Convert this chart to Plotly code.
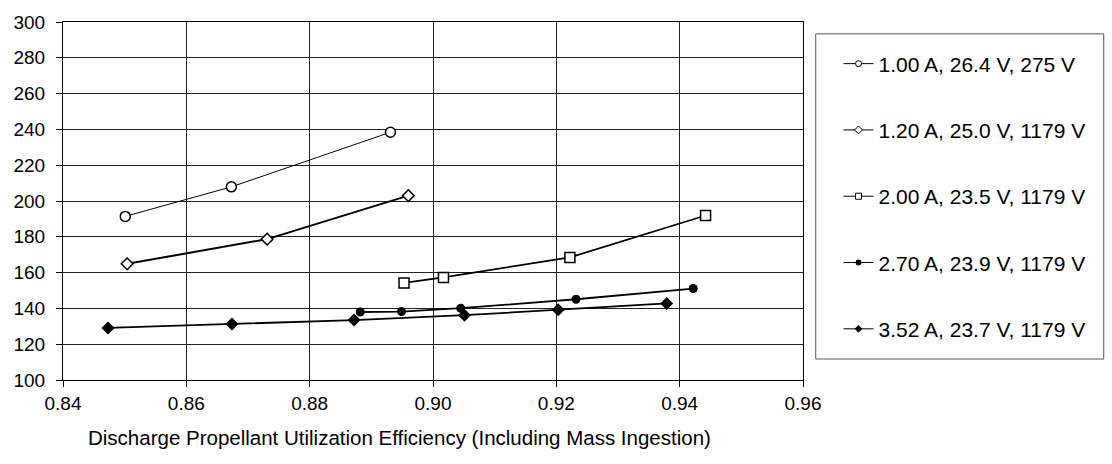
import plotly.graph_objects as go

# Discharge propellant utilization efficiency (x) vs. discharge loss (y), one series per operating point
series_names = [
    "1.00 A, 26.4 V, 275 V",
    "1.20 A, 25.0 V, 1179 V",
    "2.00 A, 23.5 V, 1179 V",
    "2.70 A, 23.9 V, 1179 V",
    "3.52 A, 23.7 V, 1179 V",
]

eff_100A = [0.8501, 0.8673, 0.8931]
loss_100A = [191.4, 207.9, 238.4]

eff_120A = [0.8504, 0.8731, 0.8960]
loss_120A = [164.9, 178.7, 203.0]

eff_200A = [0.8953, 0.9017, 0.9222, 0.9442]
loss_200A = [154.2, 157.3, 168.5, 191.9]

eff_270A = [0.8882, 0.8949, 0.9045, 0.9232, 0.9422]
loss_270A = [138.0, 138.2, 140.1, 145.1, 151.1]

eff_352A = [0.8473, 0.8674, 0.8872, 0.9051, 0.9203, 0.9379]
loss_352A = [129.1, 131.3, 133.5, 136.2, 139.2, 142.8]

x_ticks = [0.84, 0.86, 0.88, 0.90, 0.92, 0.94, 0.96]
x_tick_text = ["0.84", "0.86", "0.88", "0.90", "0.92", "0.94", "0.96"]
y_ticks = [100, 120, 140, 160, 180, 200, 220, 240, 260, 280, 300]

x_title = "Discharge Propellant Utilization Efficiency (Including Mass Ingestion)"

FONT = "Arial, 'Liberation Sans', sans-serif"

styles = [
    dict(symbol="circle-open", size=10, lw=1.0),
    dict(symbol="diamond-open", size=9, lw=2.0),
    dict(symbol="square-open", size=10, lw=1.8),
    dict(symbol="circle", size=9, lw=1.8),
    dict(symbol="diamond", size=10, lw=1.8),
]

data = [
    (eff_100A, loss_100A),
    (eff_120A, loss_120A),
    (eff_200A, loss_200A),
    (eff_270A, loss_270A),
    (eff_352A, loss_352A),
]

fig = go.Figure()

for name, (xs, ys), st in zip(series_names, data, styles):
    open_marker = st["symbol"].endswith("-open")
    sym = st["symbol"].replace("-open", "")
    fig.add_trace(go.Scatter(
        x=xs, y=ys, mode="lines+markers", name=name, showlegend=False,
        line=dict(color="black", width=st["lw"]),
        marker=dict(symbol=sym, size=st["size"],
                    color="white" if open_marker else "black",
                    line=dict(color="black", width=1.5 if open_marker else 0)),
    ))

# legend entries with small symbols
for i, (name, st) in enumerate(zip(series_names, styles)):
    open_marker = st["symbol"].endswith("-open")
    sym = st["symbol"].replace("-open", "")
    fig.add_trace(go.Scatter(
        x=[None], y=[None], mode="lines+markers", name=name,
        legendgroup=f"g{i}",
        line=dict(color="black", width=1),
        marker=dict(symbol=sym, size=6,
                    color="white" if open_marker else "black",
                    line=dict(color="black", width=1 if open_marker else 0)),
    ))

axis_common = dict(
    showgrid=True, gridcolor="#222222", gridwidth=1,
    showline=True, linecolor="black", linewidth=1, mirror=True,
    ticks="outside", ticklen=6, tickcolor="black",
    tickfont=dict(family=FONT, size=19, color="black"),
    zeroline=False,
)

fig.update_xaxes(range=[0.84, 0.96], tickvals=x_ticks, ticktext=x_tick_text, **axis_common)
fig.update_yaxes(range=[100, 300], tickvals=y_ticks, ticklabelstandoff=7, **axis_common)

fig.add_annotation(
    text=x_title, xref="paper", yref="paper", x=0.455, y=-0.16,
    xanchor="center", yanchor="middle", showarrow=False,
    font=dict(family=FONT, size=20.5, color="black"),
)

# legend frame
fig.add_shape(type="rect", xref="paper", yref="paper",
              x0=1.0172, x1=1.4064, y0=0.0587, y1=0.9669,
              line=dict(color="#555555", width=1), fillcolor="white", layer="below")

fig.update_layout(
    width=1112, height=464,
    margin=dict(l=63.4, r=309.4, t=17.3, b=84),
    paper_bgcolor="white", plot_bgcolor="white",
    font=dict(family=FONT, color="black"),
    legend=dict(
        x=1.048, y=0.940, xanchor="left", yanchor="top",
        bgcolor="rgba(0,0,0,0)", borderwidth=0,
        font=dict(family=FONT, size=21, color="black"),
        tracegroupgap=36, itemwidth=30,
    ),
)

fig.write_html("out.html")
